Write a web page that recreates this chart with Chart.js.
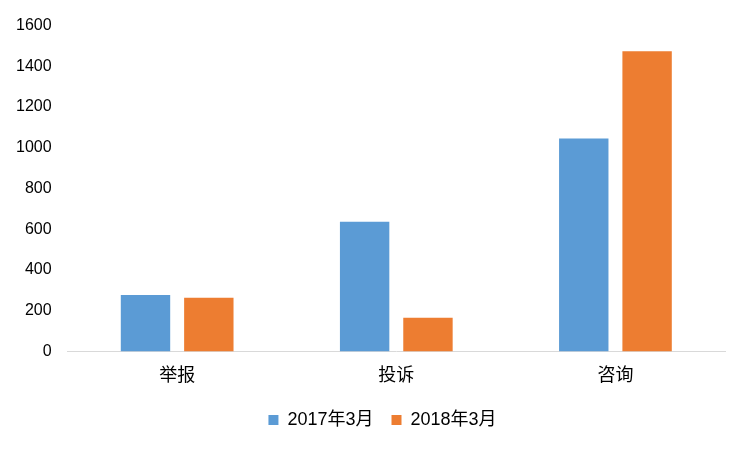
<!DOCTYPE html>
<html>
  <head>
    <meta charset="utf-8" />
    <title>Chart</title>
    <style>
      body { margin: 0; background: #fff; }
      #wrap { width: 750px; height: 450px; }
    </style>
  </head>
  <body>
    <div id="wrap"><canvas id="myChart"></canvas></div>
    <script src="https://cdn.jsdelivr.net/npm/chart.js@4.4.0/dist/chart.umd.min.js"></script>
    <script>
      const categories = ["举报", "投诉", "咨询"];
      const series2017 = [277, 637, 1046];
      const series2018 = [263, 165, 1474];
      const yTicks = { min: 0, max: 1600, step: 200 };

      const font = "'Liberation Sans', 'Noto Sans CJK SC', sans-serif";

      // legend sits a bit right of centre in the original
      const legendShift = {
        id: "legendShift",
        afterLayout(chart) {
          chart.legend.left += 20;
          chart.legend.right += 20;
        }
      };

      const ctx = document.getElementById("myChart").getContext("2d");
      new Chart(ctx, {
        type: "bar",
        data: {
          labels: categories,
          datasets: [
            { label: "2017年3月", data: series2017, backgroundColor: "#5B9BD5" },
            { label: "2018年3月", data: series2018, backgroundColor: "#ED7D31" }
          ]
        },
        options: {
          responsive: true,
          maintainAspectRatio: false,
          animation: false,
          layout: { padding: { left: 0, right: 25, top: 12, bottom: 11 } },
          datasets: { bar: { categoryPercentage: 0.578, barPercentage: 0.78 } },
          plugins: {
            legend: {
              position: "bottom",
              labels: {
                boxWidth: 10, boxHeight: 10, padding: 18,
                color: "#000", font: { family: font, size: 18 }
              }
            },
            tooltip: { enabled: false }
          },
          scales: {
            x: {
              grid: { display: false },
              border: { display: true, color: "#d9d9d9", width: 1 },
              ticks: { color: "#000", font: { family: font, size: 18 }, padding: 6 }
            },
            y: {
              min: yTicks.min, max: yTicks.max,
              grid: { display: false, drawTicks: false },
              border: { display: false },
              ticks: {
                stepSize: yTicks.step, color: "#000", padding: 16,
                font: { family: font, size: 16 },
                callback: v => String(v)
              }
            }
          }
        },
        plugins: [legendShift]
      });
    </script>
  </body>
</html>
